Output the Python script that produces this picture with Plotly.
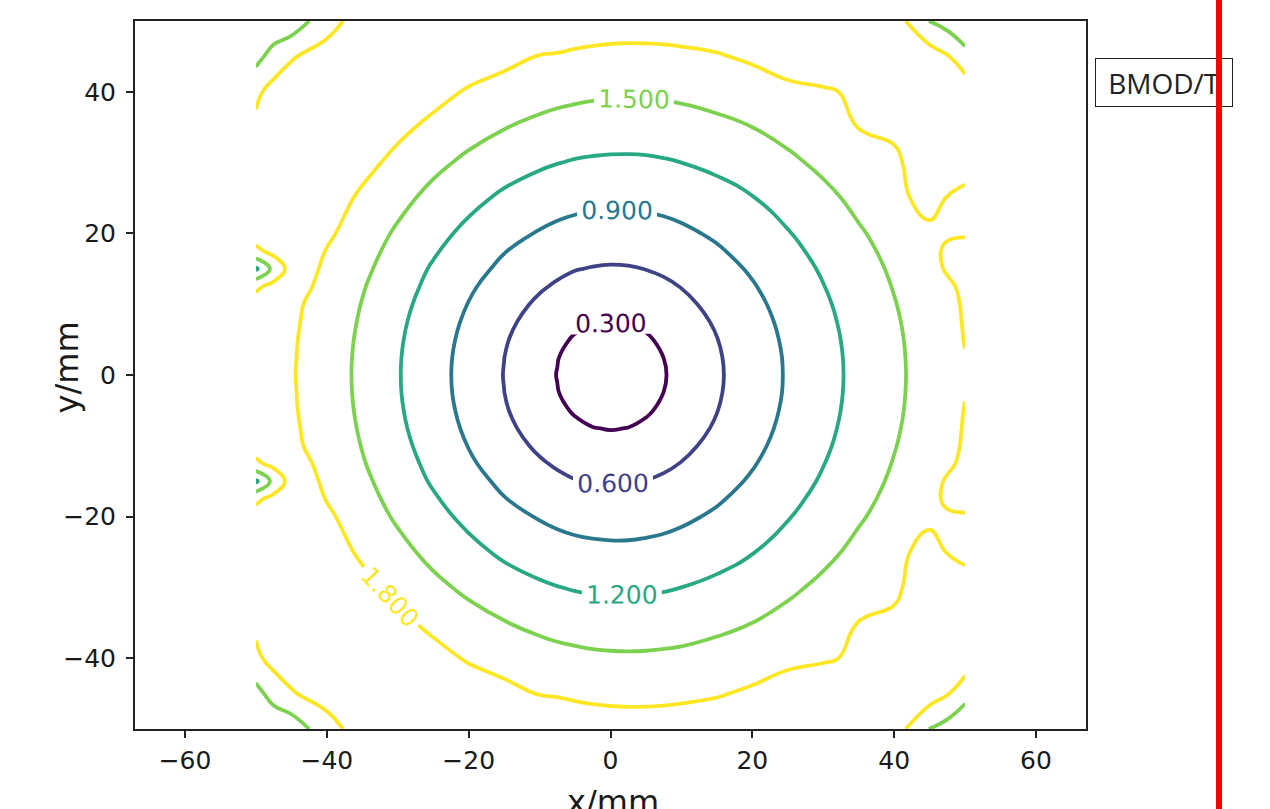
import plotly.graph_objects as go

# grid coordinates (mm)
x_mm = [-50, -47.5, -45, -40, -35, -30, -25, -20, -15, -10, -7.5, -5, -2.5, 0,
        2.5, 5, 7.5, 10, 15, 20, 25, 30, 35, 40, 45, 47.5, 50]
y_mm = [-50, -45, -40, -35, -30, -25, -20, -17.5, -15, -12.5, -10, -7.5, -5, -2.5, 0,
        2.5, 5, 7.5, 10, 12.5, 15, 17.5, 20, 25, 30, 35, 40, 45, 50]

# field magnitude BMOD (T), one row per y value
row_50 = [1.22, 1.26, 1.30, 1.70, 1.92, 2.10, 2.15, 2.12, 2.07, 2.00, 1.973, 1.95, 1.936, 1.93, 1.920, 1.92, 1.924, 1.93, 1.96, 2.01, 2.07, 2.10, 2.10, 1.95, 1.49, 1.38, 1.25]
row_45 = [1.40, 1.62, 1.78, 1.90, 2.05, 2.10, 2.07, 1.97, 1.88, 1.79, 1.781, 1.76, 1.743, 1.73, 1.728, 1.73, 1.736, 1.75, 1.78, 1.84, 1.91, 1.99, 2.05, 1.95, 1.95, 1.82, 1.60]
row_40 = [1.74, 1.90, 1.92, 1.98, 2.05, 2.03, 1.90, 1.77, 1.69, 1.62, 1.589, 1.57, 1.550, 1.54, 1.537, 1.54, 1.549, 1.56, 1.61, 1.67, 1.745, 1.77, 1.84, 1.92, 1.95, 1.97, 2.00]
row_35 = [1.86, 1.92, 1.95, 2.00, 2.00, 1.87, 1.73, 1.61, 1.51, 1.43, 1.397, 1.37, 1.357, 1.35, 1.346, 1.35, 1.362, 1.38, 1.43, 1.50, 1.59, 1.69, 1.805, 1.83, 1.95, 1.96, 1.95]
row_30 = [1.88, 1.95, 1.95, 2.00, 1.89, 1.72, 1.57, 1.44, 1.33, 1.24, 1.207, 1.18, 1.164, 1.155, 1.154, 1.16, 1.176, 1.20, 1.26, 1.345, 1.445, 1.56, 1.68, 1.77, 1.90, 1.87, 1.85]
row_25 = [1.90, 1.95, 1.95, 1.95, 1.75, 1.585, 1.42, 1.28, 1.15, 1.06, 1.019, 0.99, 0.972, 0.963, 0.963, 0.974, 0.993, 1.02, 1.10, 1.19, 1.31, 1.43, 1.57, 1.76, 1.85, 1.795, 1.77]
row_20 = [1.92, 1.93, 1.95, 1.85, 1.65, 1.46, 1.29, 1.13, 0.99, 0.88, 0.834, 0.80, 0.780, 0.77, 0.773, 0.79, 0.813, 0.85, 0.94, 1.055, 1.185, 1.32, 1.47, 1.61, 1.77, 1.77, 1.78]
row_17 = [1.74, 1.88, 1.95, 1.79, 1.60, 1.41, 1.23, 1.06, 0.91, 0.79, 0.743, 0.71, 0.684, 0.67, 0.678, 0.695, 0.724, 0.76, 0.87, 0.99, 1.13, 1.275, 1.42, 1.58, 1.73, 1.84, 1.87]
row_15 = [1.15, 1.59, 1.92, 1.764, 1.56, 1.36, 1.17, 1.00, 0.84, 0.71, 0.655, 0.61, 0.588, 0.578, 0.583, 0.604, 0.638, 0.683, 0.80, 0.933, 1.08, 1.23, 1.39, 1.54, 1.70, 1.83, 1.88]
row_12 = [1.75, 1.88, 1.90, 1.731, 1.52, 1.32, 1.125, 0.94, 0.77, 0.63, 0.569, 0.52, 0.493, 0.48, 0.489, 0.514, 0.555, 0.607, 0.734, 0.88, 1.034, 1.193, 1.353, 1.513, 1.672, 1.751, 1.86]
row_10 = [1.90, 1.90, 1.85, 1.703, 1.49, 1.284, 1.084, 0.892, 0.713, 0.554, 0.488, 0.434, 0.399, 0.385, 0.395, 0.427, 0.476, 0.536, 0.678, 0.834, 0.996, 1.16, 1.325, 1.488, 1.65, 1.73, 1.83]
row_07 = [1.91, 1.89, 1.84, 1.681, 1.466, 1.255, 1.051, 0.852, 0.663, 0.49, 0.414, 0.350, 0.306, 0.289, 0.303, 0.344, 0.404, 0.474, 0.631, 0.797, 0.966, 1.135, 1.303, 1.469, 1.633, 1.716, 1.82]
row_05 = [1.92, 1.88, 1.83, 1.665, 1.448, 1.235, 1.026, 0.823, 0.625, 0.438, 0.352, 0.275, 0.216, 0.193, 0.214, 0.27, 0.343, 0.424, 0.594, 0.769, 0.944, 1.116, 1.287, 1.455, 1.621, 1.703, 1.81]
row_02 = [1.91, 1.875, 1.825, 1.655, 1.437, 1.222, 1.011, 0.804, 0.602, 0.404, 0.309, 0.217, 0.137, 0.096, 0.136, 0.214, 0.301, 0.391, 0.572, 0.752, 0.929, 1.105, 1.277, 1.447, 1.614, 1.697, 1.79]
row_00 = [1.90, 1.87, 1.82, 1.652, 1.433, 1.218, 1.006, 0.798, 0.593, 0.392, 0.293, 0.194, 0.097, 0.01, 0.096, 0.191, 0.285, 0.379, 0.564, 0.746, 0.925, 1.101, 1.274, 1.444, 1.611, 1.693, 1.78]

bmod = [row_50, row_45, row_40, row_35, row_30, row_25, row_20, row_17,
        row_15, row_12, row_10, row_07, row_05, row_02, row_00, row_02,
        row_05, row_07, row_10, row_12, row_15, row_17, row_20, row_25,
        row_30, row_35, row_40, row_45, row_50]

levels = dict(start=0.3, end=1.8001, size=0.3)
x_ticks = [-60, -40, -20, 0, 20, 40, 60]
y_ticks = [-40, -20, 0, 20, 40]
legend_text = "BMOD/T"

def lab(v):
    return ("\u2212" + str(abs(v))) if v < 0 else str(v)

fig = go.Figure()
fig.add_trace(go.Contour(
    x=x_mm, y=y_mm, z=bmod,
    colorscale="Viridis", zmin=0.3, zmax=1.8, showscale=False,
    contours=dict(**levels, coloring="lines", showlabels=True,
                  labelformat=".3f",
                  labelfont=dict(size=25, family="DejaVu Sans")),
    line=dict(width=3.8, smoothing=1.3),
    hoverinfo="skip",
))

axis_common = dict(showgrid=False, zeroline=False, showline=True,
                   linecolor="#222222", linewidth=2, mirror=True,
                   ticks="outside", ticklen=7, tickwidth=2, tickcolor="#222222",
                   tickfont=dict(family="DejaVu Sans", size=25, color="#1a1a1a"))

fig.update_layout(
    width=1270, height=809, autosize=False,
    margin=dict(l=135, r=184, t=21, b=80),
    paper_bgcolor="white", plot_bgcolor="white",
    showlegend=False,
    xaxis=dict(range=[-67.05, 67.05], tickvals=x_ticks,
               ticktext=[lab(v) for v in x_ticks], ticklabelstandoff=1,
               **axis_common),
    yaxis=dict(range=[-50, 50], tickvals=y_ticks,
               ticktext=[lab(v) for v in y_ticks], ticklabelstandoff=5,
               **axis_common),
    annotations=[
        dict(text="x/mm", xref="paper", yref="paper", x=0.503, y=-0.073,
             xanchor="center", yanchor="top", showarrow=False,
             font=dict(family="DejaVu Sans", size=32, color="#1a1a1a")),
        dict(text="y/mm", xref="paper", yref="paper", x=-0.0715, y=0.5106,
             xanchor="center", yanchor="middle", showarrow=False, textangle=-90,
             font=dict(family="DejaVu Sans", size=32, color="#1a1a1a")),
        dict(text=legend_text, xref="paper", yref="paper", x=1.0095, y=0.9477,
             xanchor="left", yanchor="top", showarrow=False,
             width=136, height=47, borderpad=0, borderwidth=1,
             bordercolor="#222222", bgcolor="white", align="center",
             font=dict(family="Open Sans", size=28, color="#222222")),
        dict(text=" ", xref="paper", yref="paper", x=1.1398, y=0.4583,
             xanchor="center", yanchor="middle", showarrow=False,
             width=6, height=830, borderpad=0, borderwidth=0,
             bgcolor="#ff0000"),
    ],
)

fig.write_html("out.html",
               config={"displayModeBar": False},
               post_script="document.body.style.margin='0px';"
                           "document.body.style.overflow='hidden';")
